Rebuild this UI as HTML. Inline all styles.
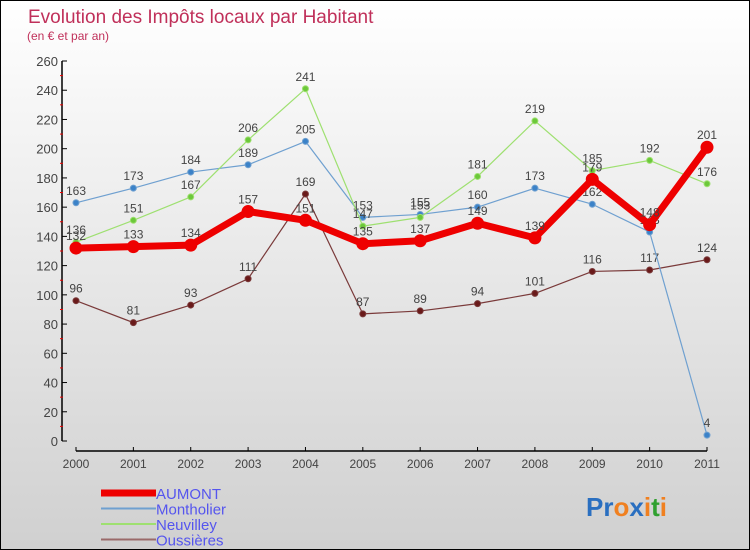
<!DOCTYPE html>
<html><head><meta charset="utf-8"><style>
body{margin:0}
#wrap{width:750px;height:550px;position:relative;box-sizing:border-box;border:1px solid #000;background:linear-gradient(#fff 0%,#ececec 40%,#d0d0d0 100%);font-family:"Liberation Sans",sans-serif;overflow:hidden}
svg{position:absolute;left:0;top:0}
</style></head><body>
<div id="wrap">
<svg id="c" width="750" height="550">
<text x="27" y="22" font-size="19" fill="#c0305a">Evolution des Impôts locaux par Habitant</text>
<text x="26" y="39" font-size="12" fill="#c0305a">(en € et par an)</text>
<text x="585" y="515" font-size="26" font-weight="bold"><tspan fill="#2a6fc0">Pr</tspan><tspan fill="#f08020">o</tspan><tspan fill="#2a6fc0">x</tspan><tspan fill="#f08020">i</tspan><tspan fill="#30a030">t</tspan><tspan fill="#f08020">i</tspan></text>
</svg>
</div>
<script>
const years=[2000,2001,2002,2003,2004,2005,2006,2007,2008,2009,2010,2011];
const yTicks=[0,20,40,60,80,100,120,140,160,180,200,220,240,260];
const aumont=[132,133,134,157,151,135,137,149,139,179,148,201];
const montholier=[163,173,184,189,205,153,155,160,173,162,143,4];
const neuvilley=[136,151,167,206,241,147,153,181,219,185,192,176];
const oussieres=[96,81,93,111,169,87,89,94,101,116,117,124];
const NS="http://www.w3.org/2000/svg";
const svg=document.getElementById('c');
const X=i=>75+i*(706-75)/11;
const Y=v=>440-v*380/260;
function mk(t,a,p){const e=document.createElementNS(NS,t);for(const k in a)e.setAttribute(k,a[k]);(p||svg).appendChild(e);return e;}
// y axis
let ya=mk('line',{x1:61,y1:Y(0),x2:61,y2:Y(260),stroke:'#000','stroke-width':1.5});


yTicks.forEach(v=>{
 let t=mk('line',{x1:61,y1:Y(v),x2:66,y2:Y(v),stroke:'#000'});
 
 
 if(v<260){let m=mk('line',{x1:59,y1:Y(v+10),x2:62,y2:Y(v+10),stroke:'#e00'});
 
 }
 let l=mk('text',{x:57,y:Y(v)+5,'text-anchor':'end','font-size':13,fill:'#444'});
 l.textContent=v;
 
 
});
let xa=mk('line',{x1:X(0),y1:450,x2:X(11),y2:450,stroke:'#000','stroke-width':1.5});


years.forEach((y,i)=>{
 let t=mk('line',{x1:X(i),y1:446,x2:X(i),y2:450,stroke:'#000'});
 
 
 let l=mk('text',{x:X(i),y:467,'text-anchor':'middle','font-size':12,fill:'#444'});
 l.textContent=y;
 
 
});
function series(d,color,w,r,dot,name){
 let p=mk('polyline',{points:d.map((v,i)=>X(i)+','+Y(v)).join(' '),fill:'none',stroke:color,'stroke-width':w,'stroke-linejoin':'round'});
 
 
 d.forEach((v,i)=>{
  let c=mk('circle',{cx:X(i),cy:Y(v),r:r,fill:dot,stroke:color,'stroke-width':1});
  
  
  let l=mk('text',{x:X(i),y:Y(v)-8,'text-anchor':'middle','font-size':12,fill:'#444'});
  l.textContent=v;
  
  
 });
}
series(oussieres,'#7a3a3a',1.2,3,'#6a1a1a','oussieres');
series(montholier,'#6fa0d0',1.2,3,'#3b82c8','montholier');
series(neuvilley,'#9ee070',1.2,3,'#6cc83a','neuvilley');
series(aumont,'#ee0000',7,6,'#ee0000','aumont');
// legend
const leg=[['AUMONT','#ee0000',7],['Montholier','#6fa0d0',2],['Neuvilley','#9ee070',2],['Oussières','#9a6a6a',2]];
leg.forEach((e,i)=>{
 const y=492+i*15.5;
 let l=mk('line',{x1:100,y1:y,x2:135+(20),y2:y,stroke:e[1],'stroke-width':e[2]});
 
 
 let t=mk('text',{x:155,y:y+6,'font-size':15,fill:'#5555ee'});
 t.textContent=e[0];
 
 
});
</script>
</body></html>
